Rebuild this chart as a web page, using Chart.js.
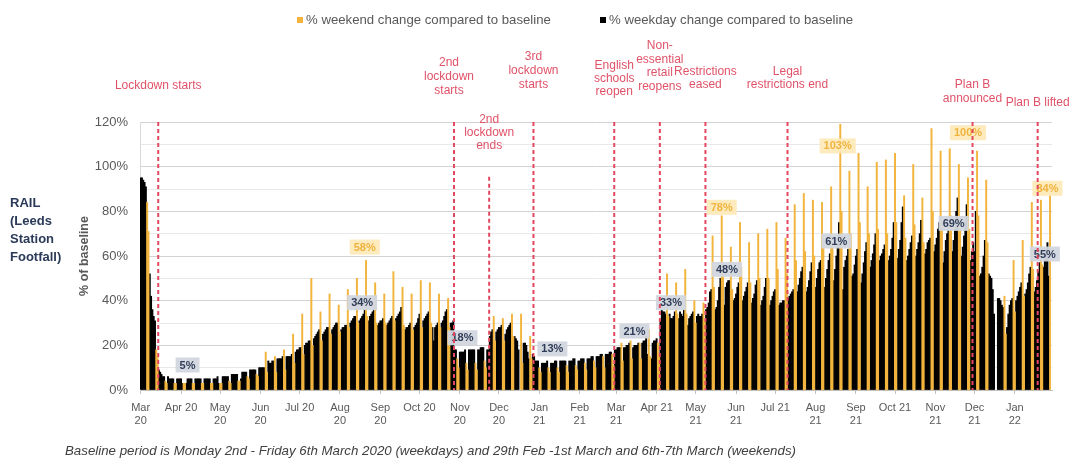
<!DOCTYPE html>
<html>
<head>
<meta charset="utf-8">
<script src="https://cdn.jsdelivr.net/npm/chart.js@4.4.1/dist/chart.umd.min.js"></script>
<style>
  html, body { margin: 0; padding: 0; background: #ffffff; }
  #wrap { position: relative; width: 1069px; height: 462px; }
</style>
</head>
<body>
<div id="wrap"><canvas id="chart" width="1069" height="462"></canvas></div>
<script>
// ---------------- DATA ----------------
const START_DATE = '2020-03-09'; // Monday of first week

// Weekday (Mon..Fri) % of baseline, one row per week
const WEEKDAY_VALUES = [
  95,95,94,93,91,  52,42,36,33,31,  9,8,7,6,6,      6,5,5,5,5,
  5,5,5,5,3,       3,5,5,5,5,       5,5,5,5,5,      5,5,5,5,5,
  5,5,5,6,3,       6,6,6,6,6,       7,7,7,7,7,      5,8,8,8,8,
  9,9,9,9,9,       10,10,10,10,10,  13,12,12,13,13, 14,14,14,14,15,
  15,15,15,15,16,  17,18,18,19,19,  20,21,21,22,22, 23,24,25,26,27,
  25,26,27,28,28,  27,28,29,30,30,  27,28,28,29,29, 30,31,32,33,33,
  31,32,33,34,36,  31,33,34,35,36,  29,30,31,31,32, 29,30,31,32,33,
  32,33,34,35,37,  27,28,28,29,30,  28,29,30,32,34, 31,32,33,34,35,
  28,22,28,29,30,  30,31,33,35,36,  30,30,31,18,18, 17,17,17,17,18,
  18,18,18,18,18,  18,18,19,19,19,  18,18,24,26,27, 26,27,28,28,29,
  25,27,28,29,30,  24,23,22,18,null, 21,21,20,17,14, 16,15,13,13,13,
  12,12,12,12,13,  12,12,12,13,13,  13,13,13,13,13, 13,13,13,14,14,
  13,13,14,14,14,  14,14,14,15,15,  15,15,15,16,16, 16,16,16,17,17,
  18,18,19,19,19,  19,19,20,20,21,  19,20,20,20,21, 21,22,22,24,16,
  14,21,22,22,23,  31,36,35,35,34,  34,32,32,33,35, 32,35,34,33,36,
  29,32,33,34,35,  33,34,33,33,34,  36,37,39,44,45, 36,37,40,46,50,
  38,46,48,49,49,  40,41,43,46,48,  40,42,44,46,48, 39,41,43,47,49,
  38,40,42,46,50,  38,40,42,44,45,  38,39,39,40,40, 41,42,43,44,45,
  44,47,50,53,55,  44,46,49,53,57,  46,50,54,57,58, 46,50,54,58,61,
  49,54,60,64,75,  45,55,58,60,63,  51,52,56,60,63, 48,52,57,62,66,
  55,58,61,65,70,  58,60,61,63,65,  58,60,63,68,75, 59,63,67,75,82,
  58,60,63,66,69,  60,63,66,70,76,  61,63,66,67,68, 62,65,68,72,75,
  57,62,67,70,72,  62,67,72,80,86,  60,64,69,75,83, 58,62,66,62,80,
  51,52,55,60,67,  52,51,50,45,34,  41,41,40,38,37, 28,34,38,40,41,
  40,42,44,46,48,  43,45,48,52,55,  44,46,49,53,57, 55,58,62,66,51
];

// Weekend (Sat, Sun) % of baseline, one pair per week
const WEEKEND_VALUES = [
  84,71, 18,15, 4,3, 3,3, 3,3, 3,3, 3,3, 3,3, 3,3, 4,3,
  4,4, 6,5, 7,6, 17,8, 15,8, 18,9, 25,12, 34,16, 50,20, 35,22,
  43,25, 38,26, 45,28, 50,30, 58,33, 48,30, 43,30, 53,31, 46,29, 43,27,
  49,28, 48,30, 43,28, 41,28, 14,10, 12,9, 12,9, 13,10, 33,22, 32,22,
  34,24, 34,12, 24,14, 10,8, 10,8, 10,8, 11,8, 11,9, 12,9, 13,10,
  15,10, 16,11, 21,13, 22,14, 21,14, 27,15, 21,15, 52,33, 48,34, 54,34,
  40,30, 39,31, 69,46, 78,55, 64,45, 75,55, 66,48, 70,50, 72,50, 75,54,
  68,52, 83,58, 88,62, 85,60, 84,64, 91,66, 119,80, 98,70, 106,75, 91,70,
  102,72, 103,70, 106,75, 87,68, 101,74, 86,66, 117,80, 107,76, 108,78, 101,76,
  95,72, 107,78, 94,66, null,null, 42,25, 58,35, 67,42, 84,54, 85,56, 87,null
];

// Month tick labels (placed on the 9th of each month)
const MONTH_TICK_LABELS = [
  ['Mar','20'], 'Apr 20', ['May','20'], ['Jun','20'], 'Jul 20', ['Aug','20'],
  ['Sep','20'], 'Oct 20', ['Nov','20'], ['Dec','20'], ['Jan','21'], ['Feb','21'],
  ['Mar','21'], 'Apr 21', ['May','21'], ['Jun','21'], 'Jul 21', ['Aug','21'],
  ['Sep','21'], 'Oct 21', ['Nov','21'], ['Dec','21'], ['Jan','22']
];

const Y_TICK_VALUES = [0, 20, 40, 60, 80, 100, 120];

const EVENTS = [
  { date: '2020-03-23', text: ['Lockdown starts'] },
  { date: '2020-11-05', text: ['2nd', 'lockdown', 'starts'] },
  { date: '2020-12-02', text: ['2nd', 'lockdown', 'ends'] },
  { date: '2021-01-05', text: ['3rd', 'lockdown', 'starts'] },
  { date: '2021-03-08', text: ['English', 'schools', 'reopen'] },
  { date: '2021-04-12', text: ['Non-', 'essential', 'retail', 'reopens'] },
  { date: '2021-05-17', text: ['Restrictions', 'eased'] },
  { date: '2021-07-19', text: ['Legal', 'restrictions end'] },
  { date: '2021-12-08', text: ['Plan B', 'announced'] },
  { date: '2022-01-27', text: ['Plan B lifted'] }
];

const VALUE_LABELS = [
  { date: '2020-04-14', text: '5%',   series: 'weekday' },
  { date: '2020-08-28', text: '58%',  series: 'weekend' },
  { date: '2020-08-26', text: '34%',  series: 'weekday' },
  { date: '2020-11-11', text: '18%',  series: 'weekday' },
  { date: '2021-01-19', text: '13%',  series: 'weekday' },
  { date: '2021-03-23', text: '21%',  series: 'weekday' },
  { date: '2021-04-20', text: '33%',  series: 'weekday' },
  { date: '2021-05-29', text: '78%',  series: 'weekend' },
  { date: '2021-06-02', text: '48%',  series: 'weekday' },
  { date: '2021-08-25', text: '61%',  series: 'weekday' },
  { date: '2021-08-26', text: '103%', series: 'weekend' },
  { date: '2021-11-23', text: '69%',  series: 'weekday' },
  { date: '2021-12-04', text: '100%', series: 'weekend' },
  { date: '2022-02-03', text: '84%',  series: 'weekend' },
  { date: '2022-02-01', text: '55%',  series: 'weekday' }
];

// ---------------- LAYOUT (positions / styles) ----------------
const LABEL_ANCHOR_VALUES = [11.2, 64, 39.1, 23.4, 18.4, 26.4, 39.1, 81.8, 54, 66.7, 109.3, 74.6, 115.2, 90.3, 60.9];
const EVENT_LAYOUT = [
  { dx: 0,  ys: [86] },
  { dx: -5, ys: [63, 77, 91] },
  { dx: 0,  ys: [120, 133, 146], lineTopValue: 95.5 },
  { dx: 0,  ys: [57, 71, 85] },
  { dx: 0,  ys: [66, 79, 92] },
  { dx: 0,  ys: [46, 60, 73, 87] },
  { dx: 0,  ys: [72, 85] },
  { dx: 0,  ys: [72, 85] },
  { dx: 0,  ys: [85, 99] },
  { dx: 0,  ys: [103] }
];
const FONT = '"Liberation Sans", Arial, Helvetica, sans-serif';
const ORANGE = '#f2b43c';
const RED = '#e3485f';
const GREY_TEXT = '#595959';

// ---------------- BUILD DAILY SERIES ----------------
const DAY_MS = 86400000;
const start = new Date(START_DATE + 'T00:00:00Z');
const nWeeks = WEEKDAY_VALUES.length / 5;
const dayLabels = [], weekdaySeries = [], weekendSeries = [];
for (let w = 0; w < nWeeks; w++) {
  for (let d = 0; d < 7; d++) {
    const idx = w * 7 + d;
    const dt = new Date(start.getTime() + idx * DAY_MS);
    dayLabels.push(dt.toISOString().slice(0, 10));
    if (d < 5) { weekdaySeries.push(WEEKDAY_VALUES[w * 5 + d]); weekendSeries.push(null); }
    else { weekdaySeries.push(null); weekendSeries.push(WEEKEND_VALUES[w * 2 + (d - 5)]); }
  }
}
const dayIndex = (s) => dayLabels.indexOf(s);
const monthTick = {};
{
  let k = 0;
  dayLabels.forEach((s, i) => { if (s.slice(8) === '09' && k < MONTH_TICK_LABELS.length) monthTick[i] = MONTH_TICK_LABELS[k++]; });
}

// ---------------- PLUGIN: annotations, legend, texts ----------------
const overlay = {
  id: 'overlay',
  afterDatasetsDraw(chart) {
    const { ctx, chartArea, scales: { x, y } } = chart;
    const slot = (chartArea.right - chartArea.left) / dayLabels.length;
    ctx.save();
    // value labels
    ctx.font = 'bold 11px ' + FONT;
    ctx.textAlign = 'center';
    ctx.textBaseline = 'middle';
    VALUE_LABELS.forEach((l, k) => {
      const px = x.getPixelForValue(dayIndex(l.date));
      const py = y.getPixelForValue(LABEL_ANCHOR_VALUES[k]);
      const w = ctx.measureText(l.text).width + 8, h = 15;
      ctx.fillStyle = l.series === 'weekend' ? 'rgba(253,233,185,0.95)' : 'rgba(210,215,223,0.95)';
      ctx.fillRect(px - w / 2, py - h / 2, w, h);
      ctx.fillStyle = l.series === 'weekend' ? '#f0b43e' : '#2f3c57';
      ctx.fillText(l.text, px, py + 0.5);
    });
    // event lines
    ctx.strokeStyle = RED;
    ctx.lineWidth = 2;
    ctx.setLineDash([4, 3]);
    EVENTS.forEach((e, k) => {
      const px = x.getPixelForValue(dayIndex(e.date)) - slot / 2;
      const lay = EVENT_LAYOUT[k];
      const top = lay.lineTopValue != null ? y.getPixelForValue(lay.lineTopValue) : chartArea.top;
      ctx.beginPath();
      ctx.moveTo(px, top);
      ctx.lineTo(px, chartArea.bottom);
      ctx.stroke();
    });
    ctx.restore();
  },
  afterDraw(chart) {
    const { ctx, chartArea, scales: { x } } = chart;
    const slot = (chartArea.right - chartArea.left) / dayLabels.length;
    ctx.save();
    // event texts
    ctx.font = '12px ' + FONT;
    ctx.fillStyle = '#e05268';
    ctx.textAlign = 'center';
    ctx.textBaseline = 'middle';
    EVENTS.forEach((e, k) => {
      const px = x.getPixelForValue(dayIndex(e.date)) - slot / 2 + EVENT_LAYOUT[k].dx;
      e.text.forEach((line, j) => ctx.fillText(line, px, EVENT_LAYOUT[k].ys[j]));
    });
    // legend
    ctx.font = '13.2px ' + FONT;
    ctx.textAlign = 'left';
    ctx.fillStyle = ORANGE;
    ctx.fillRect(297, 17, 6, 6);
    ctx.fillStyle = GREY_TEXT;
    ctx.fillText(chart.data.datasets[0].label, 306, 20.5);
    ctx.fillStyle = '#000000';
    ctx.fillRect(600, 17, 6, 6);
    ctx.fillStyle = GREY_TEXT;
    ctx.fillText(chart.data.datasets[1].label, 609, 20.5);
    // side title
    ctx.font = 'bold 13px ' + FONT;
    ctx.fillStyle = '#2b3a58';
    ['RAIL', '(Leeds', 'Station', 'Footfall)'].forEach((t, j) => ctx.fillText(t, 10, 203 + j * 18));
    // caption
    ctx.font = 'italic 13.3px ' + FONT;
    ctx.fillStyle = '#404040';
    ctx.fillText('Baseline period is Monday 2nd - Friday 6th March 2020 (weekdays) and 29th Feb -1st March and 6th-7th March (weekends)', 65, 451);
    ctx.restore();
  }
};

// ---------------- CHART ----------------
new Chart(document.getElementById('chart'), {
  type: 'bar',
  data: {
    labels: dayLabels,
    datasets: [
      {
        label: '% weekend change compared to baseline',
        data: weekendSeries,
        backgroundColor: ORANGE,
        borderWidth: 0,
        barPercentage: 1,
        categoryPercentage: 1,
        order: 0
      },
      {
        label: '% weekday change compared to baseline',
        data: weekdaySeries,
        backgroundColor: '#000000',
        borderWidth: 0,
        barPercentage: 1,
        categoryPercentage: 1,
        order: 1
      }
    ]
  },
  options: {
    responsive: false,
    animation: false,
    devicePixelRatio: 1,
    layout: { padding: { left: 70, right: 17, top: 122, bottom: 0 } },
    plugins: { legend: { display: false }, tooltip: { enabled: false } },
    datasets: { bar: { grouped: false } },
    scales: {
      x: {
        type: 'category',
        offset: true,
        grid: {
          display: true,
          drawOnChartArea: false,
          offset: false,
          tickLength: 4,
          tickColor: (c) => monthTick[c.index] ? '#bfbfbf' : 'rgba(0,0,0,0)',
          color: 'rgba(0,0,0,0)'
        },
        border: { display: true, color: '#bfbfbf' },
        ticks: {
          autoSkip: false,
          maxRotation: 0,
          minRotation: 0,
          padding: 7,
          color: GREY_TEXT,
          font: { family: FONT, size: 11 },
          callback: (v, i) => monthTick[i] || ''
        },
        afterFit: (s) => { s.height = 72; }
      },
      y: {
        min: 0,
        max: 120,
        ticks: {
          stepSize: 5,
          padding: 12,
          color: GREY_TEXT,
          font: { family: FONT, size: 13 },
          callback: (v) => Y_TICK_VALUES.includes(v) ? v + '%' : ''
        },
        grid: {
          drawTicks: false,
          color: (c) => (c.tick && Y_TICK_VALUES.includes(c.tick.value)) ? '#d2d2d2' : '#e8e8e8'
        },
        border: { display: true, color: '#d9d9d9' },
        title: {
          display: true,
          text: '% of baseline',
          color: GREY_TEXT,
          font: { family: FONT, size: 12.5, weight: 'bold' },
          padding: { top: 7, bottom: 0 }
        },
        afterFit: (s) => { s.width = 70; }
      }
    }
  },
  plugins: [overlay]
});
</script>
</body>
</html>
